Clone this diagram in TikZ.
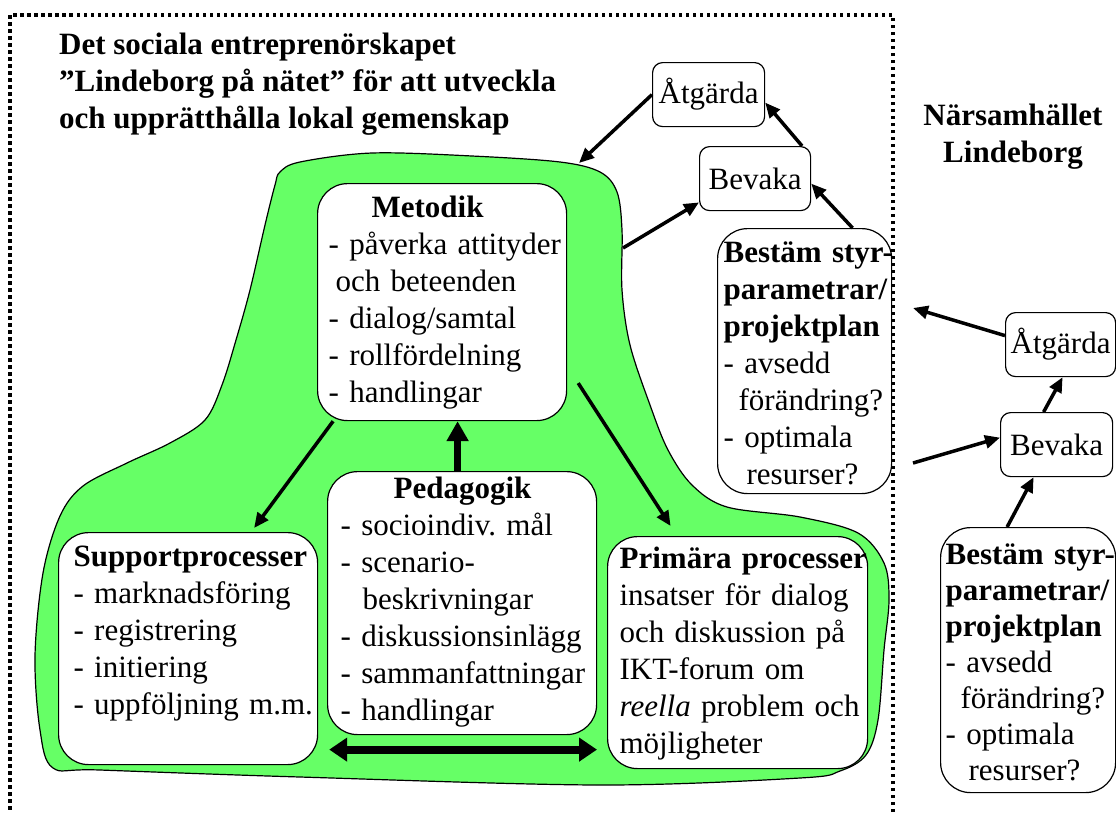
\documentclass[tikz,border=0pt]{standalone}
\usepackage{fontspec}
\setmainfont{Liberation Serif}
\usetikzlibrary{arrows.meta}
\definecolor{blobgreen}{RGB}{102,255,102}
\newcommand\upgap[1]{\rule{0pt}{#1pt}}
\newcommand\downgap[1]{\rule[-#1pt]{0pt}{#1pt}}
\hyphenpenalty=10000
\exhyphenpenalty=10000
\frenchspacing
\tikzstyle{every edge} = [draw,line width=3.5pt,-{Triangle[length=15pt,width=13pt]}]
\tikzstyle{heavy} = [line width=7pt,-{Triangle[length=20pt,width=21pt]}]
\tikzstyle{twoway} = [line width=8pt,{Triangle[length=18pt,width=23pt]}-{Triangle[length=18pt,width=23pt]}]
\tikzstyle{block} = [draw,fill=white,line width=1.2pt,rounded corners=30pt,anchor=north west,align=left,inner ysep=0pt,font=\fontsize{31}{37}\selectfont]
\tikzstyle{tag} = [draw,fill=white,line width=1.2pt,rounded corners=10pt,anchor=north west,inner sep=0pt,minimum height=64pt,font=\fontsize{31}{37}\selectfont]
\tikzstyle{heading} = [inner sep=0pt,font=\fontsize{31}{37}\selectfont\bfseries]
\tikzstyle{frame} = [line width=3.5pt,dash pattern=on 3.5pt off 3.5pt]

\begin{document}
\begin{tikzpicture}[x=1pt,y=-1pt]
\useasboundingbox (0,0) rectangle (1116,812);

% green area
\draw[fill=blobgreen,line width=1.2pt] plot[smooth cycle,tension=0.55] coordinates {
  (280,172) (300,162) (372,153) (472,156) (560,162) (600,172) (617,192) (622,230)
  (622,290) (630,345) (650,405) (668,450) (692,485) (727,507) (800,517) (858,533)
  (884,563) (889,600) (884,650) (878,720) (866,755) (840,771) (800,778) (600,785)
  (300,777) (100,770) (53,768) (40,730) (35,656) (43,573) (60,516) (83,486)
  (127,463) (170,443) (205,420) (222,385) (236,340) (250,290) (265,225) (275,185)};
\coordinate (blobtop) at (579,163);
\coordinate (blobside) at (623,248);

\node[heading,align=left,anchor=base west] (headline) at (59,128) {Det sociala entreprenörskapet\\ ”Lindeborg på nätet” för att utveckla\\ och upprätthålla lokal gemenskap};
\node[heading,align=center,anchor=base] (place) at (1013,162) {Närsamhället\\ Lindeborg};

\node[block,text width=227pt,inner xsep=11pt] (metodik) at (317,183) {\upgap{34}\hspace*{43pt}\textbf{Metodik}\\ \mbox{- påverka attityder}\\ \hspace*{7pt}och beteenden\\ - dialog/samtal\\ - rollfördelning\\ - handlingar\downgap{18}};
\node[block,text width=243pt,inner xsep=13pt] (pedagogik) at (327,471) {\upgap{27}\hspace*{53pt}\textbf{Pedagogik}\\ - socioindiv. mål\\ - scenario-\\ \hspace*{22pt}beskrivningar\\ \mbox{- diskussionsinlägg}\\ \mbox{- sammanfattningar}\\ - handlingar\downgap{14}};
\node[block,text width=229pt,inner xsep=15pt] (support) at (58,532) {\upgap{34}\mbox{\textbf{Supportprocesser}}\\ - marknadsföring\\ - registrering\\ - initiering\\ \mbox{- uppföljning m.m.}\downgap{50}};
\node[block,text width=236pt,inner xsep=12pt] (primara) at (607,536) {\upgap{32}\mbox{\textbf{Primära processer}}\\ insatser för dialog\\ och diskussion på\\ IKT-forum om\\ \mbox{\textit{reella} problem och}\\ möjligheter\downgap{15}};

\node[block,text width=162pt,inner xsep=6pt] (bestA) at (717,228) {\upgap{34}\mbox{\textbf{Bestäm styr-}}\\ \mbox{\textbf{parametrar/}}\\ \textbf{projektplan}\\ - avsedd\\ \hspace*{15pt}förändring?\\ - optimala\\ \hspace*{23pt}resurser?\downgap{9}};
\node[block,text width=165pt,inner xsep=5pt,font=\fontsize{31}{36}\selectfont] (bestB) at (940,527) {\upgap{37}\mbox{\textbf{Bestäm styr-}}\\ \mbox{\textbf{parametrar/}}\\ \textbf{projektplan}\\ - avsedd\\ \hspace*{15pt}förändring?\\ - optimala\\ \hspace*{23pt}resurser?\downgap{12}};

\node[tag,minimum width=112pt] (atgA) at (652,62) {Åtgärda};
\node[tag,minimum width=111pt] (bevA) at (699,146) {Bevaka};
\node[tag,minimum width=110pt] (atgB) at (1005,312) {Åtgärda};
\node[tag,minimum width=112pt] (bevB) at (1000,412) {Bevaka};
\coordinate (frameup) at (913,308);
\coordinate (framelow) at (913,463);

\draw (atgA.west) edge (blobtop);
\draw (blobside) edge (bevA.203);
\draw ([xshift=48pt]bestA.north) edge ([yshift=-5pt]bevA.east);
\draw ([xshift=47pt]bevA.north) edge ([yshift=-8pt]atgA.east);
\draw ([xshift=-21pt]bestB.north) edge ([xshift=-23pt]bevB.south);
\draw ([xshift=-13pt]bevB.north) edge ([xshift=2pt]atgB.south);
\draw ([yshift=9pt]atgB.west) edge (frameup);
\draw (framelow) edge ([yshift=7pt]bevB.west);
\draw ([xshift=-109pt]metodik.south) edge ([xshift=66pt,yshift=4pt]support.north);
\draw ([xshift=11pt,yshift=-81pt]metodik.east) edge ([xshift=-67pt,yshift=10pt]primara.north);
\draw ([xshift=-4.5pt]pedagogik.north) edge[heavy] ([xshift=15.5pt]metodik.south);
\draw ([xshift=11pt,yshift=-101pt]support.east) edge[twoway] ([xshift=-10pt,yshift=-97pt]primara.west);

\draw[frame] (10,15) rectangle (893,840);

\end{tikzpicture}
\end{document}
